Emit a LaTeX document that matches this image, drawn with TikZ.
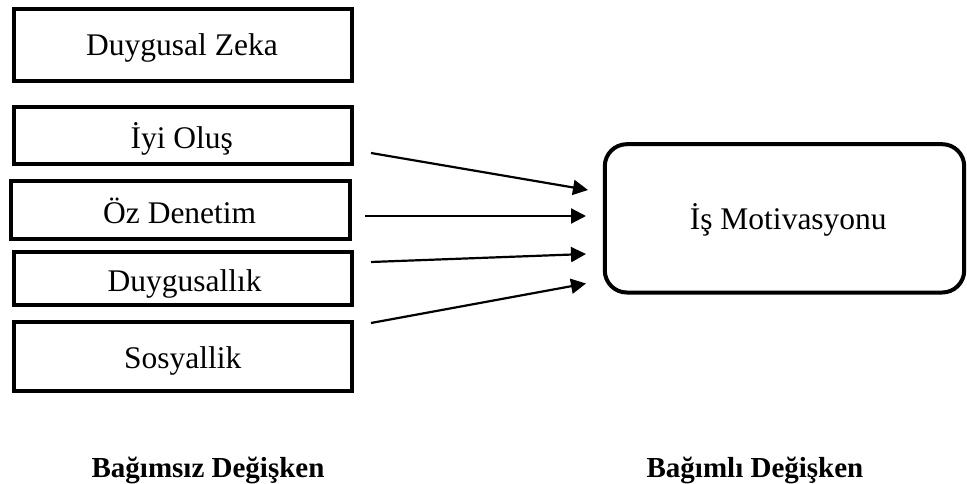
\documentclass[tikz,border=0pt]{standalone}
\usepackage{fontspec}
\setmainfont{Liberation Serif}
\usetikzlibrary{arrows.meta}

\tikzset{
  varbox/.style={draw=black, line width=4pt, inner sep=0pt, outer sep=0pt, fill=white},
  depbox/.style={varbox, rounded corners=22pt},
  boxtext/.style={anchor=base, inner sep=0pt, font=\fontsize{31.5}{36}\selectfont},
  captext/.style={anchor=base, inner sep=0pt, font=\fontsize{29}{34}\selectfont\bfseries},
  link/.style={line width=2.2pt, -{Triangle[length=15pt,width=15pt]}}
}

\begin{document}
\begin{tikzpicture}[x=1pt, y=-1pt]
  \useasboundingbox (0,0) rectangle (967,484);

  % independent variable boxes
  \node[varbox, minimum width=338.3pt, minimum height=71.5pt] (zeka) at (182.85,45.25) {};
  \node[varbox, minimum width=338.3pt, minimum height=57pt]   (iyi)  at (182.85,135.5) {};
  \node[varbox, minimum width=339.5pt, minimum height=57.5pt] (oz)   at (180.25,210.05) {};
  \node[varbox, minimum width=338.3pt, minimum height=53.1pt] (duyg) at (182.85,278.25) {};
  \node[varbox, minimum width=338.3pt, minimum height=69.1pt] (sos)  at (182.85,356.25) {};

  \node[boxtext] (tzeka) at (182,56)    {Duygusal Zeka};
  \node[boxtext] (tiyi)  at (181.7,148.3) {İyi Oluş};
  \node[boxtext] (toz)   at (179.7,223.3) {Öz Denetim};
  \node[boxtext] (tduyg) at (184.7,291.7) {Duygusallık};
  \node[boxtext] (tsos)  at (182.8,368.3) {Sosyallik};

  % dependent variable box
  \node[depbox, minimum width=359.4pt, minimum height=148.3pt] (mot) at (784.5,218.35) {};
  \node[boxtext] (tmot) at (788.3,229.3) {İş Motivasyonu};

  % arrow end points
  \coordinate (s1) at (371,153);   \coordinate (e1) at (588,190);
  \coordinate (s2) at (365,216);   \coordinate (e2) at (586,216);
  \coordinate (s3) at (371,262);   \coordinate (e3) at (586,254);
  \coordinate (s4) at (371,323);   \coordinate (e4) at (586,283.5);

  \draw[link] (s1) -- (e1);
  \draw[link] (s2) -- (e2);
  \draw[link] (s3) -- (e3);
  \draw[link] (s4) -- (e4);

  % captions
  \node[captext] (indep) at (208,477) {Bağımsız Değişken};
  \node[captext] (dep)   at (755,477) {Bağımlı Değişken};
\end{tikzpicture}
\end{document}
